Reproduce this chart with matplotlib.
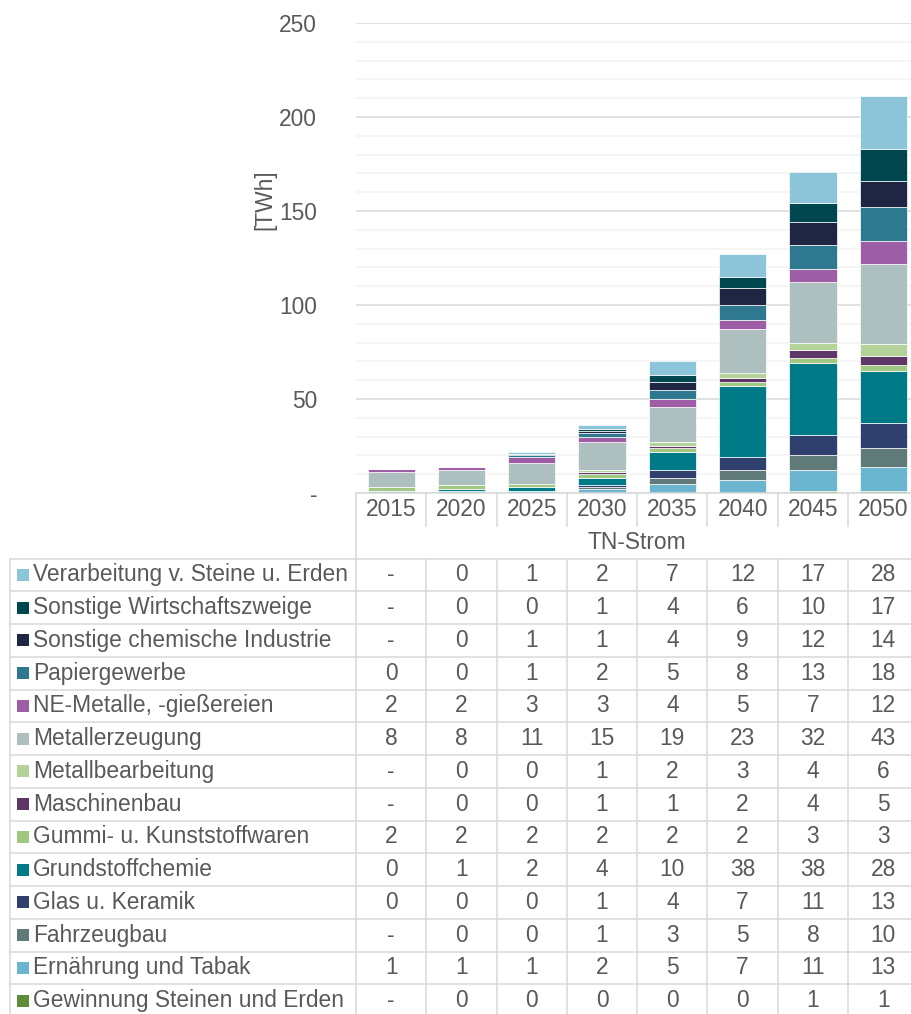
import matplotlib
matplotlib.use("Agg")
import matplotlib.pyplot as plt
from matplotlib.patches import Rectangle

# --------------------------
# Data (TWh, None = "-")
# --------------------------
years = ["2015", "2020", "2025", "2030", "2035", "2040", "2045", "2050"]
scenario = "TN-Strom"

# stack order from the bottom up
sectors = [
    "Gewinnung Steinen und Erden",
    "Ernährung und Tabak",
    "Fahrzeugbau",
    "Glas u. Keramik",
    "Grundstoffchemie",
    "Gummi- u. Kunststoffwaren",
    "Maschinenbau",
    "Metallbearbeitung",
    "Metallerzeugung",
    "NE-Metalle, -gießereien",
    "Papiergewerbe",
    "Sonstige chemische Industrie",
    "Sonstige Wirtschaftszweige",
    "Verarbeitung v. Steine u. Erden",
]

gewinnung = [None, 0, 0, 0, 0, 0, 1, 1]
ernaehrung = [1, 1, 1, 2, 5, 7, 11, 13]
fahrzeugbau = [None, 0, 0, 1, 3, 5, 8, 10]
glas = [0, 0, 0, 1, 4, 7, 11, 13]
grundstoffchemie = [0, 1, 2, 4, 10, 38, 38, 28]
gummi = [2, 2, 2, 2, 2, 2, 3, 3]
maschinenbau = [None, 0, 0, 1, 1, 2, 4, 5]
metallbearbeitung = [None, 0, 0, 1, 2, 3, 4, 6]
metallerzeugung = [8, 8, 11, 15, 19, 23, 32, 43]
ne_metalle = [2, 2, 3, 3, 4, 5, 7, 12]
papier = [0, 0, 1, 2, 5, 8, 13, 18]
sonst_chemie = [None, 0, 1, 1, 4, 9, 12, 14]
sonst_wirtschaft = [None, 0, 0, 1, 4, 6, 10, 17]
verarbeitung = [None, 0, 1, 2, 7, 12, 17, 28]

series = [gewinnung, ernaehrung, fahrzeugbau, glas, grundstoffchemie, gummi,
          maschinenbau, metallbearbeitung, metallerzeugung, ne_metalle, papier,
          sonst_chemie, sonst_wirtschaft, verarbeitung]

colors = ["#5E8C3A", "#6CB5CF", "#607A7A", "#2F406E", "#007A86", "#A0C881",
          "#5E3766", "#B5D398", "#ADBFBF", "#9E5EA5", "#2E7890", "#1F2644",
          "#00474F", "#8CC4D9"]

# --------------------------
# Layout (pixels of a 911x1014 canvas)
# --------------------------
W, H = 911, 1014
TEXT = "#595959"
GRID = "#D9D9D9"
FS = 16.4
COL_W = 70.3
X0 = 356          # left edge of the first year column
TOP = 23          # y of the 250 gridline
BASE = 493        # y of the zero line
ROW_H = 32.75
LABEL_X = 10

plt.rcParams["font.family"] = ["Liberation Sans", "DejaVu Sans"]

fig = plt.figure(figsize=(W / 100, H / 100), dpi=100)

# --------------------------
# Stacked bars
# --------------------------
ax = fig.add_axes([X0 / W, (H - BASE) / H, len(years) * COL_W / W, (BASE - TOP) / H])
x = range(len(years))
bottom = [0.0] * len(years)
for name, vals, col in zip(sectors, series, colors):
    v = [0 if a is None else a for a in vals]
    ax.bar(x, v, width=0.67, bottom=bottom, color=col, edgecolor="#FFFFFF",
           linewidth=0.5, zorder=3, label=name)
    bottom = [b + a for b, a in zip(bottom, v)]

ax.set_xlim(-0.5, len(years) - 0.5)
ax.set_ylim(0, 250)
ax.set_yticks(range(0, 251, 50))
ax.set_yticklabels(["-"] + [str(t) for t in range(50, 251, 50)])
ax.set_yticks(range(0, 251, 10), minor=True)
ax.set_xticks([])
ax.tick_params(axis="y", which="both", length=0, pad=28, labelsize=FS, labelcolor=TEXT)
ax.grid(axis="y", which="major", color=GRID, linewidth=1.1, zorder=0)
ax.grid(axis="y", which="minor", color="#F2F2F2", linewidth=1.1, zorder=0)
for s in ax.spines.values():
    s.set_visible(False)

fig.text(265 / W, 1 - 200 / H, "[TWh]", rotation=90, ha="center", va="center",
         fontsize=FS, color=TEXT)

# --------------------------
# Data table below the chart
# --------------------------
n_cols = len(years)
label_w = (X0 - LABEL_X) / COL_W
n_rows = 2 + len(sectors)
tab = fig.add_axes([LABEL_X / W, (H - BASE - n_rows * ROW_H) / H,
                    (label_w + n_cols) * COL_W / W, n_rows * ROW_H / H])
tab.set_xlim(-label_w, n_cols)
tab.set_ylim(n_rows, 0)
tab.axis("off")

lw = 1.1
# header: years and scenario name
tab.plot([0, n_cols], [0, 0], color=GRID, lw=lw, clip_on=False)
for c in range(n_cols + 1):
    tab.plot([c, c], [0, 1], color=GRID, lw=lw, clip_on=False)
for c, yr in enumerate(years):
    tab.text(c + 0.5, 0.5, yr, ha="center", va="center", fontsize=FS, color=TEXT)
tab.plot([0, 0], [1, 2], color=GRID, lw=lw, clip_on=False)
tab.text(n_cols / 2, 1.5, scenario, ha="center", va="center", fontsize=FS, color=TEXT)

# body rows, top row is the last stacked series
for r, (name, vals, col) in enumerate(zip(sectors[::-1], series[::-1], colors[::-1])):
    y = 2 + r
    tab.plot([-label_w, n_cols], [y, y], color=GRID, lw=lw, clip_on=False)
    tab.add_patch(Rectangle((-label_w + 7 / COL_W, y + 0.5 - 6 / ROW_H),
                            12 / COL_W, 12 / ROW_H, color=col, lw=0))
    tab.text(-label_w + 23 / COL_W, y + 0.5, name, ha="left", va="center",
             fontsize=FS, color=TEXT)
    for c, v in enumerate(vals):
        tab.text(c + 0.5, y + 0.5, "-" if v is None else str(v), ha="center",
                 va="center", fontsize=FS, color=TEXT)
tab.plot([-label_w, n_cols], [n_rows, n_rows], color=GRID, lw=lw, clip_on=False)
tab.plot([-label_w, -label_w], [2, n_rows], color=GRID, lw=lw, clip_on=False)
for c in range(n_cols + 1):
    tab.plot([c, c], [2, n_rows], color=GRID, lw=lw, clip_on=False)

fig.savefig("out.png", dpi=100)
